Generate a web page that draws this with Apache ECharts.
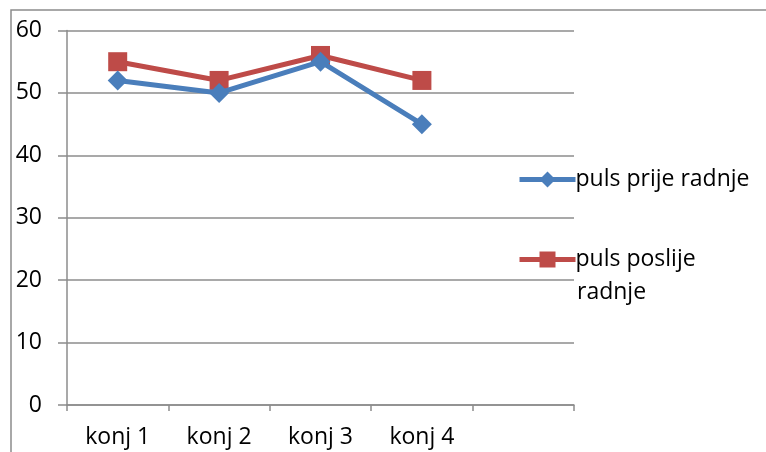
<!DOCTYPE html>
<html><head><meta charset="utf-8">
<script src="https://cdn.jsdelivr.net/npm/echarts@6/dist/echarts.min.js"></script>
<style>html,body{margin:0;padding:0;background:#fff}#c{width:766px;height:452px}</style>
</head><body><div id="c"></div>
<script>
const categories = ['konj 1', 'konj 2', 'konj 3', 'konj 4', ''];
const pulsPrije = [52, 50, 55, 45];
const pulsPoslije = [55, 52, 56, 52];
const yTicks = [0, 10, 20, 30, 40, 50, 60];
const seriesNames = ['puls prije radnje', 'puls poslije radnje'];

const FONT = 'Open Sans';
const FS = 23;
const chart = echarts.init(document.getElementById('c'));
const legendCommon = {
  orient: 'vertical', left: 517, itemWidth: 56, itemHeight: 20, itemGap: 0, padding: 0,
  lineStyle: { width: 5 },
  textStyle: { fontFamily: FONT, fontSize: FS, color: '#000', padding: [0,0,0,-5] },
  selectedMode: false
};
chart.setOption({
  animation: false,
  graphic: [
    { type: 'rect', shape: { x: 11, y: 10, width: 800, height: 500 }, style: { fill: 'none', stroke: '#8c8c8c', lineWidth: 1.5 } },
    { type: 'text', left: 577, top: 292 - 11, style: { text: 'radnje', font: FS + 'px "' + FONT + '"', fill: '#000' } }
  ],
  grid: { left: 67, right: 192, top: 30.5, bottom: 47 },
  legend: [
    Object.assign({}, legendCommon, { top: 178 - 10, data: [seriesNames[0]] }),
    Object.assign({}, legendCommon, { top: 258 - 10, data: [seriesNames[1]], formatter: () => 'puls poslije' })
  ],
  xAxis: {
    type: 'category', data: categories, boundaryGap: true,
    axisLine: { lineStyle: { color: '#8c8c8c', width: 1.5 } },
    axisTick: { show: true, length: 6, lineStyle: { color: '#8c8c8c', width: 1.5 } },
    axisLabel: { fontFamily: FONT, fontSize: FS, color: '#000', margin: 21, interval: 0 }
  },
  yAxis: {
    type: 'value', min: 0, max: 60, interval: 10,
    axisLine: { show: true, lineStyle: { color: '#8c8c8c', width: 1.5 } },
    axisTick: { show: true, length: 9, lineStyle: { color: '#8c8c8c', width: 1.5 } },
    splitLine: { lineStyle: { color: '#8c8c8c', width: 1.5 } },
    axisLabel: { fontFamily: FONT, fontSize: FS, color: '#000', margin: 25, formatter: v => yTicks.includes(v) ? String(v) : '' }
  },
  series: [
    { name: seriesNames[0], type: 'line', data: pulsPrije, symbol: 'diamond', symbolSize: 20,
      itemStyle: { color: '#4a7ebb' }, lineStyle: { color: '#4a7ebb', width: 5 }, z: 3 },
    { name: seriesNames[1], type: 'line', data: pulsPoslije, symbol: 'rect', symbolSize: 19,
      itemStyle: { color: '#be4b48' }, lineStyle: { color: '#be4b48', width: 5 }, z: 2 }
  ]
});
</script></body></html>
